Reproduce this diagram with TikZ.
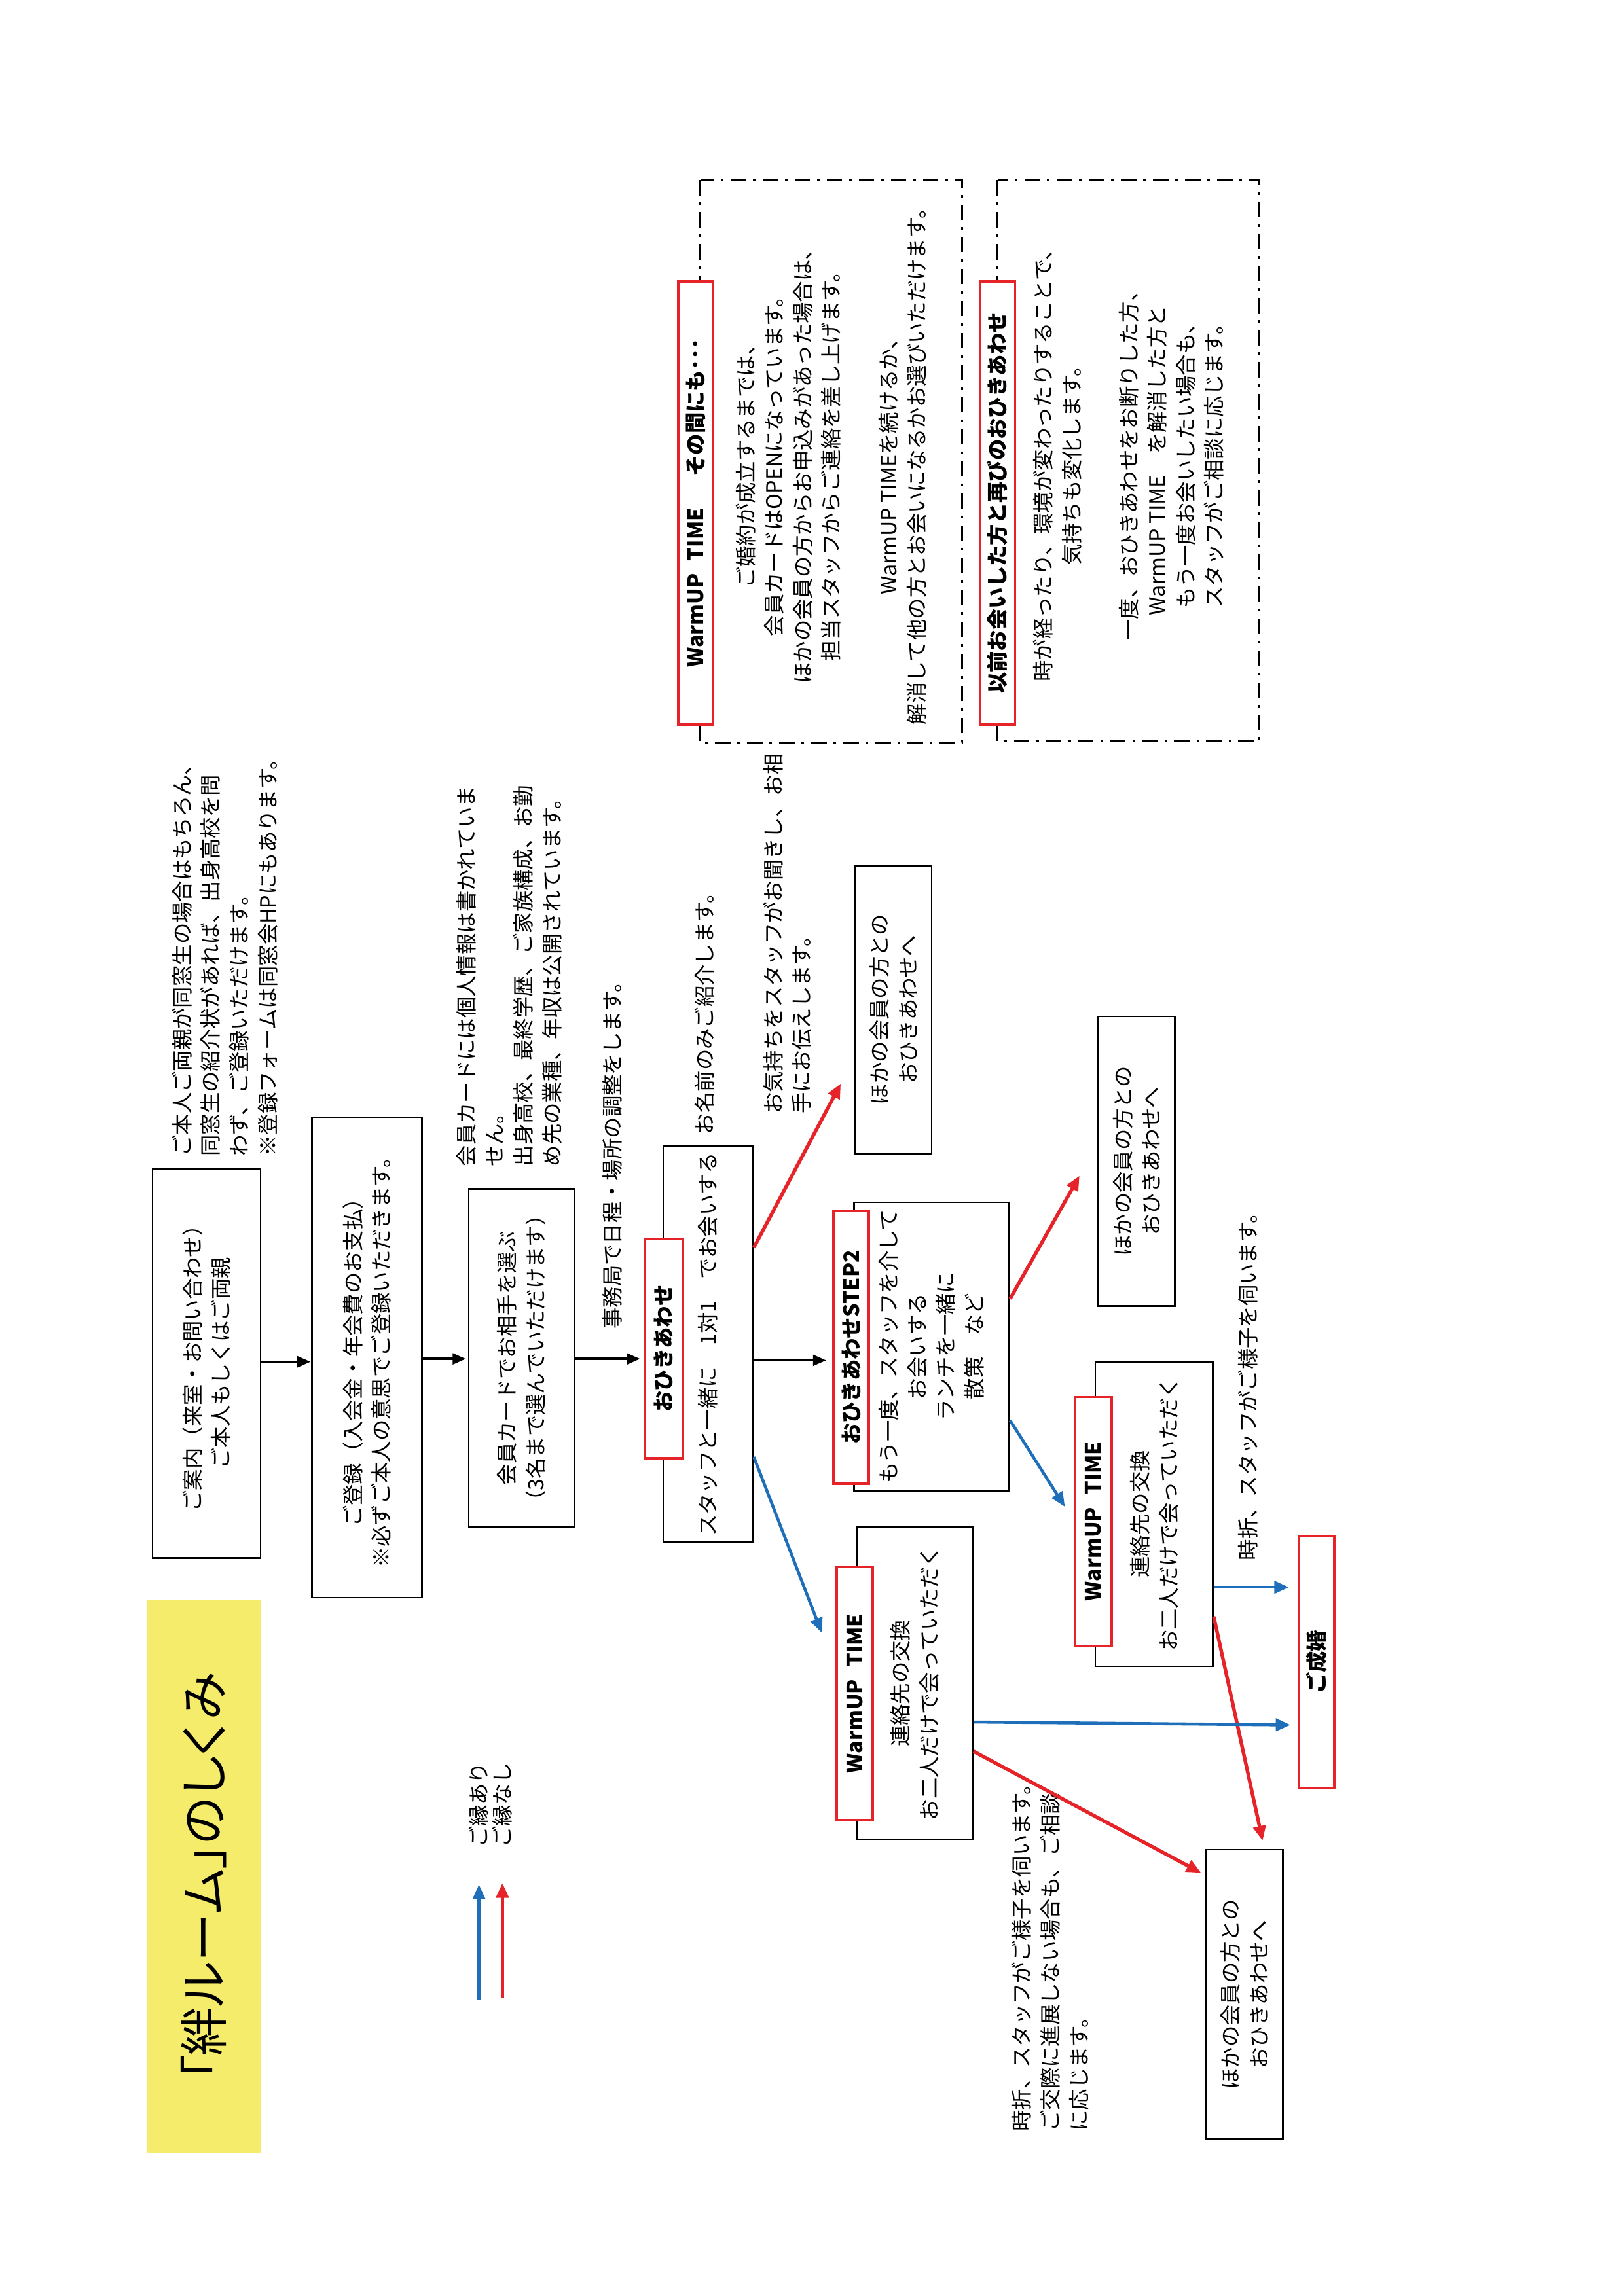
\documentclass[tikz,border=0pt]{standalone}
\usepackage{fontspec}
\setmainfont{Noto Sans CJK JP}
\usetikzlibrary{arrows.meta,calc}

\definecolor{kred}{RGB}{230,35,40}
\definecolor{kblue}{RGB}{30,110,185}
\definecolor{kyellow}{RGB}{246,236,108}
\newcommand{\kbody}{\fontsize{7.8}{10.5}\selectfont}
\newcommand{\ktitle}{\fontsize{18}{20}\selectfont\addfontfeature{RawFeature=+palt}}
\tikzset{
  titlebox/.style={fill=kyellow,rotate=90,inner sep=0pt,minimum width=7.15cm,minimum height=1.48cm,font=\ktitle},
  stepbox/.style={draw=black,line width=0.6pt,rotate=90,align=center,inner sep=0pt,font=\kbody},
  redtag/.style={draw=kred,fill=white,line width=0.9pt,rotate=90,inner sep=0pt,font=\kbody\bfseries},
  dashframe/.style={draw=black,line width=0.7pt,dash pattern=on 2mm off 0.9mm on 0.35mm off 0.9mm,rotate=90,align=center,inner sep=0pt,font=\kbody},
  memo/.style={rotate=90,align=left,anchor=west,inner sep=0pt,font=\kbody},
  flowarrow/.style={draw=black,line width=0.9pt,-{Triangle[length=1.7mm,width=1.4mm]}},
  yesarrow/.style={draw=kblue,line width=1.1pt,-{Triangle[length=1.9mm,width=1.6mm]}},
  noarrow/.style={draw=kred,line width=1.3pt,-{Triangle[length=1.9mm,width=1.6mm]}}
}

\begin{document}
\begin{tikzpicture}[x=0.018953cm,y=-0.018953cm]
  \useasboundingbox (0,0) rectangle (1108,1568);

  % Title
  \node[titlebox] (title) at (139,1281.5) {「絆ルーム」のしくみ};

  % Main steps
  \node[stepbox,minimum width=5.04cm,minimum height=1.40cm] (visit) at (141,931)
    {ご案内（来室・お問い合わせ）\\ご本人もしくはご両親};
  \node[stepbox,minimum width=6.22cm,minimum height=1.42cm] (entry) at (250.5,927)
    {ご登録（入会金・年会費のお支払）\\※必ずご本人の意思でご登録いただきます。};
  \node[stepbox,minimum width=4.38cm,minimum height=1.36cm] (choose) at (356,927.5)
    {会員カードでお相手を選ぶ\\（3名まで選んでいただけます）};
  \node[stepbox,minimum width=5.12cm,minimum height=1.16cm] (meet) at (483.5,918)
    {スタッフと一緒に　1対1　でお会いする};
  \node[redtag,minimum width=2.84cm,minimum height=0.49cm] (meettag) at (453,921) {おひきあわせ};
  \node[stepbox,minimum width=3.73cm,minimum height=2.01cm] (step) at (636,919.5)
    {もう一度、スタッフを介して\\お会いする\\ランチを一緒に\\散策　など};
  \node[redtag,minimum width=3.53cm,minimum height=0.455cm] (steptag) at (581,920) {おひきあわせSTEP2};

  % Other members
  \node[stepbox,minimum width=3.73cm,minimum height=0.99cm] (otherA) at (610,689.5)
    {ほかの会員の方との\\おひきあわせへ};
  \node[stepbox,minimum width=3.75cm,minimum height=0.99cm] (otherB) at (776,793)
    {ほかの会員の方との\\おひきあわせへ};
  \node[stepbox,minimum width=3.75cm,minimum height=1.00cm] (otherC) at (849.5,1362)
    {ほかの会員の方との\\おひきあわせへ};

  % WarmUP boxes
  \node[stepbox,minimum width=4.04cm,minimum height=1.50cm] (warmA) at (624.5,1149.5)
    {連絡先の交換\\お二人だけで会っていただく};
  \node[redtag,minimum width=3.28cm,minimum height=0.47cm] (warmAtag) at (583.5,1156.5) {WarmUP\hspace{0.6em}TIME};
  \node[stepbox,minimum width=3.94cm,minimum height=1.52cm] (warmB) at (788,1034)
    {連絡先の交換\\お二人だけで会っていただく};
  \node[redtag,minimum width=3.22cm,minimum height=0.47cm] (warmBtag) at (746.5,1039) {WarmUP\hspace{0.6em}TIME};
  \node[redtag,minimum width=3.26cm,minimum height=0.455cm] (wed) at (899,1135) {ご成婚};

  % Dash-dot frames
  \node[dashframe,minimum width=7.28cm,minimum height=3.39cm] (keep) at (567.5,315)
    {ご婚約が成立するまでは、\\会員カードはOPENになっています。\\ほかの会員の方からお申込みがあった場合は、\\担当スタッフからご連絡を差し上げます。\\[10.5pt]WarmUP TIMEを続けるか、\\解消して他の方とお会いになるかお選びいただけます。};
  \node[redtag,minimum width=5.74cm,minimum height=0.455cm] (keeptag) at (475,343.5)
    {WarmUP\hspace{0.6em}TIME\hspace{1.5em}その間にも･･･};
  \node[dashframe,minimum width=7.26cm,minimum height=3.39cm] (again) at (770.5,314.5)
    {時が経ったり、環境が変わったりすることで、\\気持ちも変化します。\\[10.5pt]一度、おひきあわせをお断りした方、\\WarmUP TIME　を解消した方と\\もう一度お会いしたい場合も、\\スタッフがご相談に応じます。};
  \node[redtag,minimum width=5.74cm,minimum height=0.455cm] (againtag) at (681,343.5)
    {以前お会いした方と再びのおひきあわせ};

  % Notes
  \node[memo] (note1) at (153.5,790) {ご本人ご両親が同窓生の場合はもちろん、\\同窓生の紹介状があれば、出身高校を問\\わず、ご登録いただけます。\\※登録フォームは同窓会HPにもあります。};
  \node[memo] (note2) at (347.5,797) {会員カードには個人情報は書かれていま\\せん。\\出身高校、最終学歴、ご家族構成、お勤\\め先の業種、年収は公開されています。};
  \node[memo] (note3) at (418,908) {事務局で日程・場所の調整をします。};
  \node[memo] (note4) at (481,775) {お名前のみご紹介します。};
  \node[memo] (note5) at (537.5,761) {お気持ちをスタッフがお聞きし、お相\\手にお伝えします。};
  \node[memo] (note6) at (852,1066) {時折、スタッフがご様子を伺います。};
  \node[memo] (note7) at (717,1456) {時折、スタッフがご様子を伺います。\\ご交際に進展しない場合も、ご相談\\に応じます。};

  % Arrow tips
  \coordinate (t1) at (212,930);
  \coordinate (t2) at (318,928);
  \coordinate (t3) at (437,928);
  \coordinate (t4) at (564,929);
  \coordinate (tr1) at (574,740);
  \coordinate (tb1) at (561,1115);
  \coordinate (tr2) at (737,803);
  \coordinate (tb2) at (727,1029);
  \coordinate (tb3) at (880,1084);
  \coordinate (tr3) at (862,1257);
  \coordinate (tb4) at (881,1178);
  \coordinate (tr4) at (820,1279);

  % Flow
  \draw[flowarrow] (visit.south |- t1) -- (t1);
  \draw[flowarrow] (entry.south |- t2) -- (t2);
  \draw[flowarrow] (choose.south |- t3) -- (t3);
  \draw[flowarrow] (meet.south |- t4) -- (t4);

  % Branches
  \draw[noarrow] ($(meet.south)+(0,-66)$) -- (tr1);
  \draw[yesarrow] ($(meet.south)+(0,77)$) -- (tb1);
  \draw[noarrow] ($(step.south)+(0,-32.5)$) -- (tr2);
  \draw[yesarrow] ($(step.south)+(0,50.5)$) -- (tb2);
  \draw[yesarrow] ($(warmB.south)+(0,50)$) -- (tb3);
  \draw[noarrow] ($(warmB.south)+(0,70)$) -- (tr3);
  \draw[yesarrow] ($(warmA.south)+(0,26.5)$) -- (tb4);
  \draw[noarrow] ($(warmA.south)+(0,46.5)$) -- (tr4);

  % Legend
  \coordinate (lgA0) at (327,1366);
  \coordinate (lgA1) at (327,1287);
  \coordinate (lgB0) at (343,1364);
  \coordinate (lgB1) at (343,1286);
  \draw[yesarrow] (lgA0) -- (lgA1);
  \draw[noarrow] (lgB0) -- (lgB1);
  \node[memo] (lgyes) at (327,1262) {ご縁あり};
  \node[memo] (lgno) at (343,1262) {ご縁なし};
\end{tikzpicture}
\end{document}
